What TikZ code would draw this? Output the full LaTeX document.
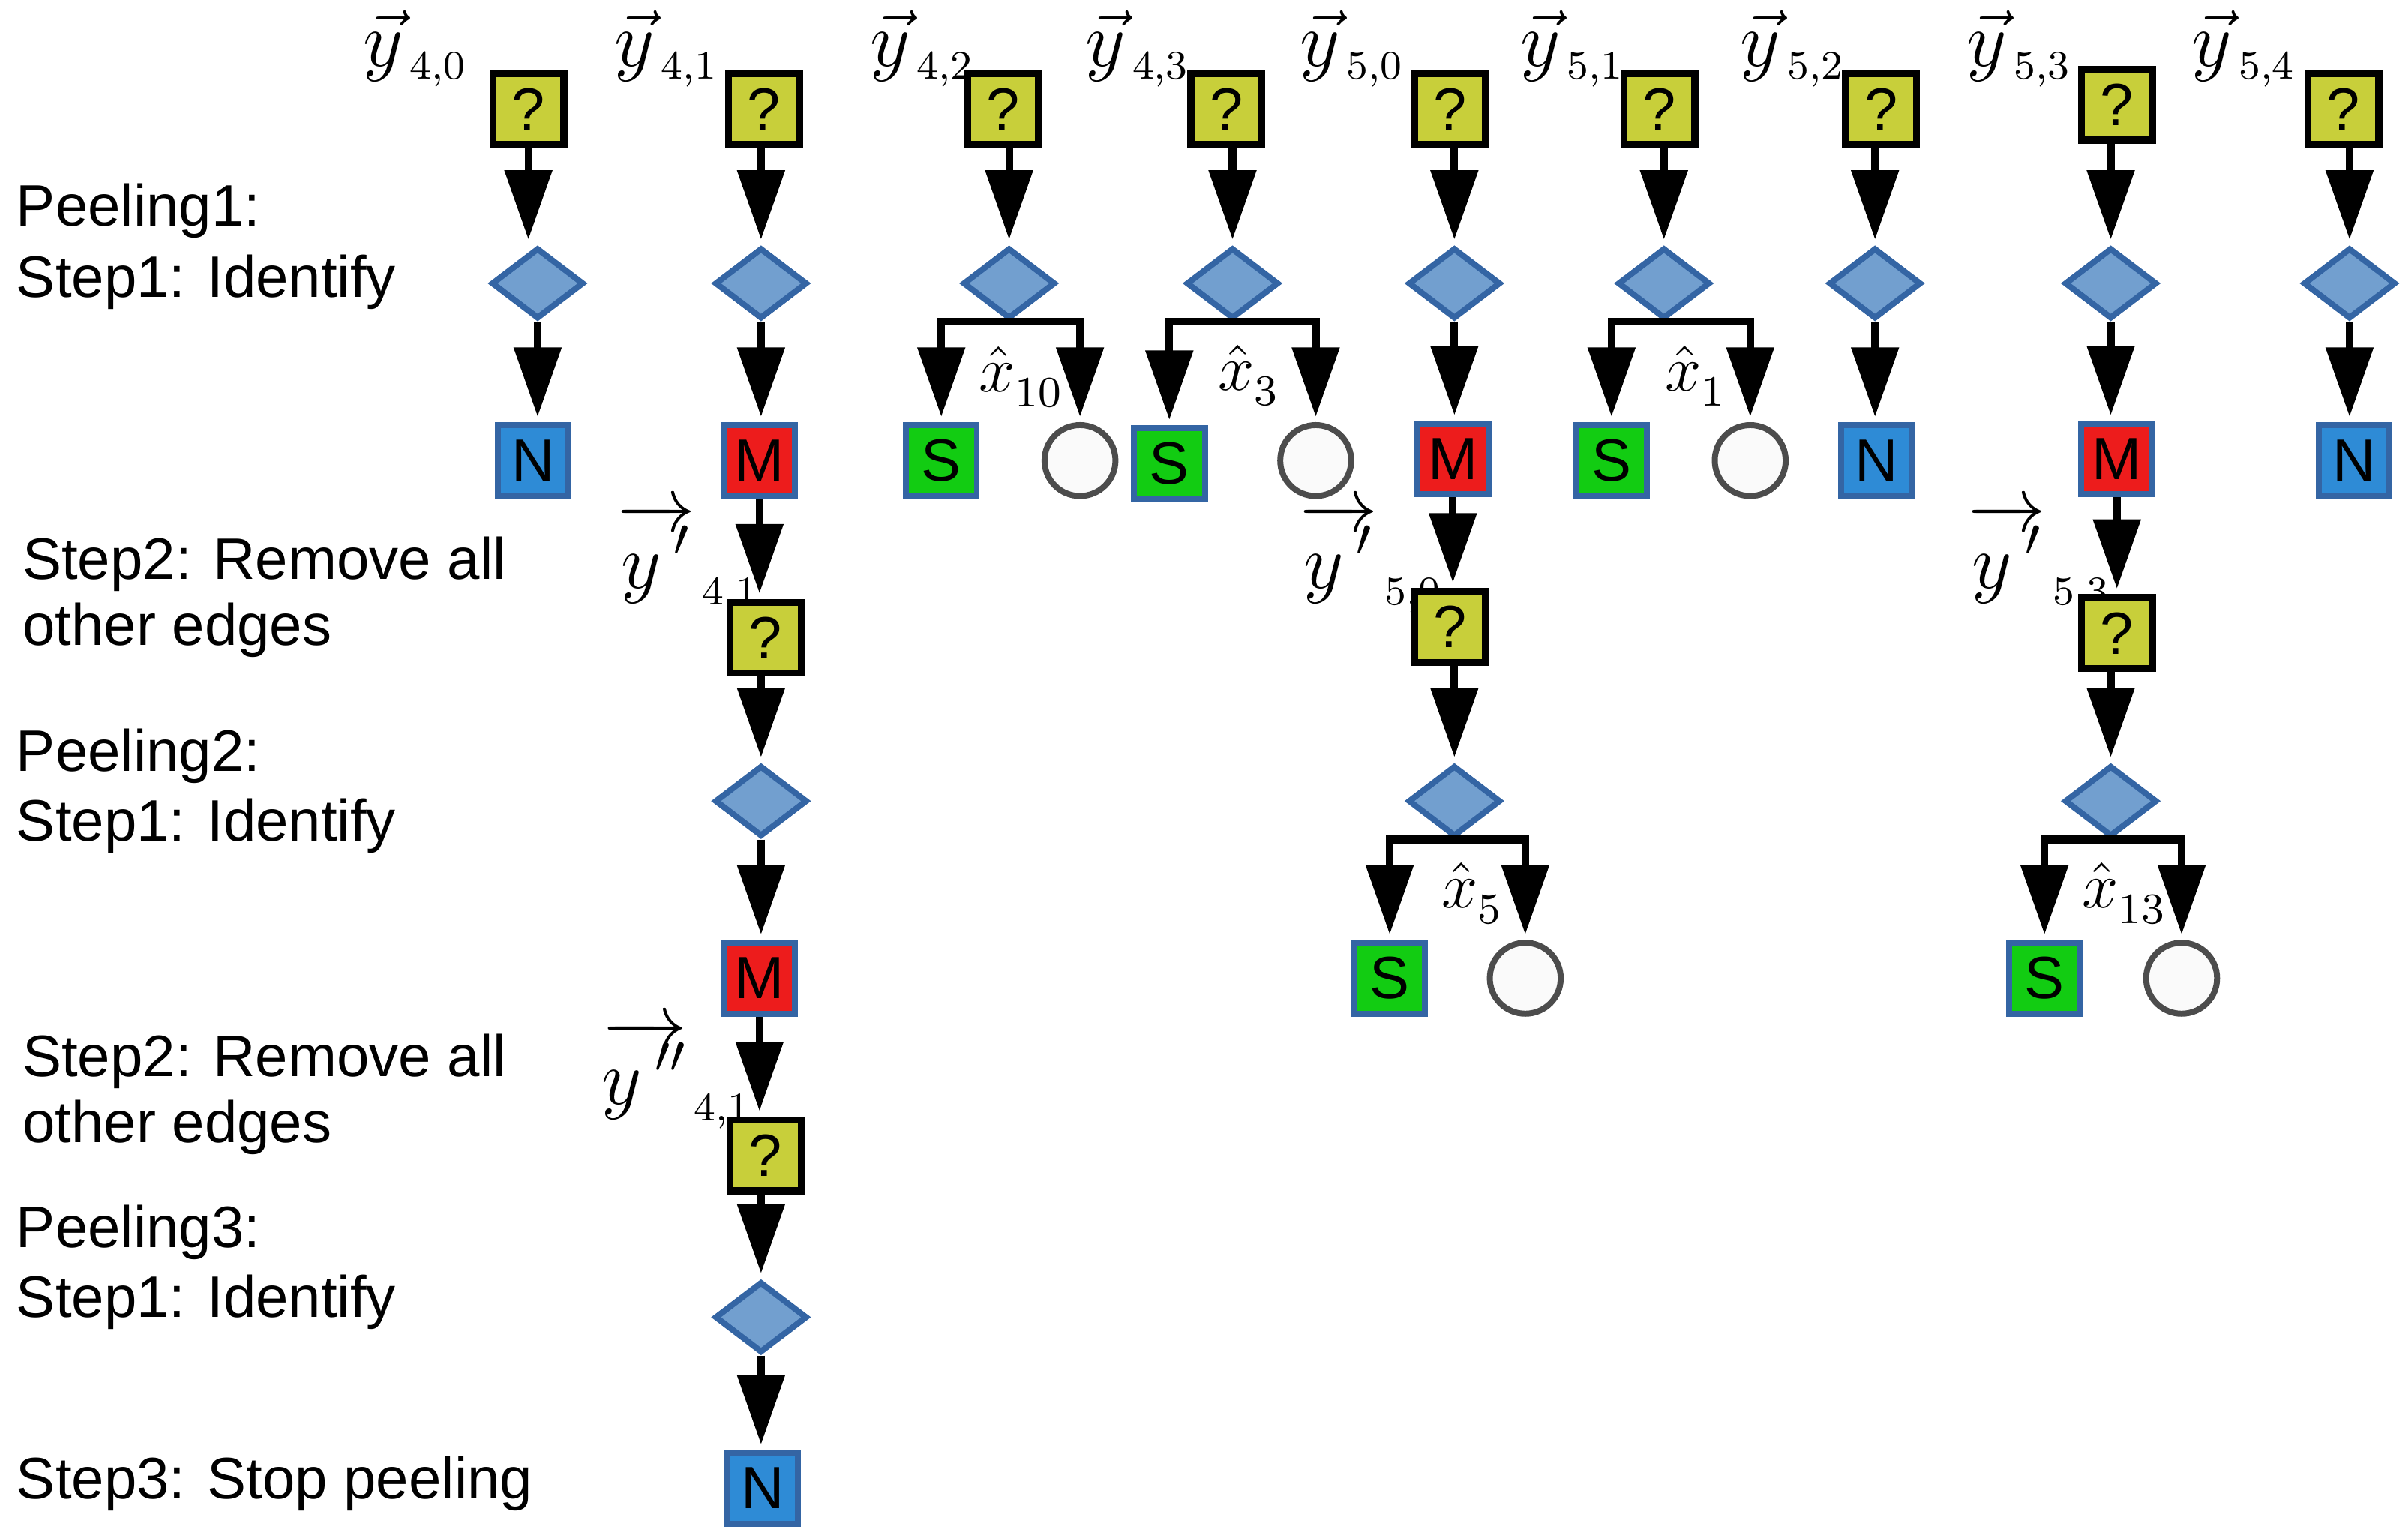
\documentclass[tikz,border=0pt]{standalone}
\usepackage{fontspec}
\setsansfont{Liberation Sans}
\usetikzlibrary{arrows.meta,shapes.geometric}
\definecolor{qy}{HTML}{C8CF3A}
\definecolor{dfill}{HTML}{729FCF}
\definecolor{dbord}{HTML}{3465A4}
\definecolor{nb}{HTML}{2E8BD6}
\definecolor{mr}{HTML}{ED1C1C}
\definecolor{sg}{HTML}{12CC12}
\tikzset{
 q/.style={draw=black,line width=1.3pt,fill=qy,minimum size=0.46cm,inner sep=0,font=\sffamily\fontsize{11}{11}\selectfont},
 st/.style={draw=dbord,line width=1.1pt,minimum size=0.46cm,inner sep=0,font=\sffamily\fontsize{11}{11}\selectfont},
 N/.style={st,fill=nb}, M/.style={st,fill=mr}, S/.style={st,fill=sg},
 c/.style={circle,draw=black!70,line width=1.1pt,fill=black!2,minimum size=0.46cm,inner sep=0},
 d/.style={diamond,draw=dbord,line width=1.1pt,fill=dfill,minimum width=0.6cm,minimum height=0.46cm,inner sep=0},
 a/.style={line width=1.4pt,-{Triangle[width=0.3cm,length=0.45cm]},shorten >=1pt},
 lt/.style={anchor=west,inner sep=0,font=\sffamily\fontsize{10.8}{13}\selectfont},
 yl/.style={anchor=base west,inner sep=0}
}
\newcommand{\yv}[1]{\fontsize{14}{14}\selectfont$\vec{y}$\raisebox{-0.4ex}{\fontsize{7.5}{9}\selectfont\,#1}}
\newcommand{\yp}[2]{\fontsize{14}{14}\selectfont$\overrightarrow{y\,#1}$\raisebox{-0.5ex}{\fontsize{7.5}{9}\selectfont\,#2}}
\newcommand{\xh}[1]{\fontsize{13}{13}\selectfont$\hat{x}$\raisebox{-0.5ex}{\fontsize{8}{9}\selectfont #1}}
\begin{document}
\begin{tikzpicture}[x=0.01cm,y=-0.01cm]
\useasboundingbox (0,0) rectangle (1563,998);
% left texts
\node[lt] (t1) at (10,137) {Peeling1:};
\node[lt] (t2) at (10,183) {Step1: Identify};
\node[lt] (t3) at (14,366) {Step2: Remove all};
\node[lt] (t4) at (14,409) {other edges};
\node[lt] (t5) at (10,491) {Peeling2:};
\node[lt] (t6) at (10,536) {Step1: Identify};
\node[lt] (t7) at (14,689) {Step2: Remove all};
\node[lt] (t8) at (14,732) {other edges};
\node[lt] (t9) at (10,800) {Peeling3:};
\node[lt] (t10) at (10,845) {Step1: Identify};
\node[lt] (t11) at (10,963) {Step3: Stop peeling};
% y labels
\node[yl] (l1) at (235,43) {\yv{4,0}};
\node[yl] (l2) at (398,43) {\yv{4,1}};
\node[yl] (l3) at (564,43) {\yv{4,2}};
\node[yl] (l4) at (704,43) {\yv{4,3}};
\node[yl] (l5) at (843,43) {\yv{5,0}};
\node[yl] (l6) at (986,43) {\yv{5,1}};
\node[yl] (l7) at (1129,43) {\yv{5,2}};
\node[yl] (l8) at (1276,43) {\yv{5,3}};
\node[yl] (l9) at (1422,43) {\yv{5,4}};
\node[yl] (p1) at (400,382) {\yp{'}{4,1}};
\node[yl] (p2) at (843,382) {\yp{'}{5,0}};
\node[yl] (p3) at (1277,382) {\yp{'}{5,3}};
\node[yl] (p4) at (390,717) {\yp{''}{4,1}};
% col 1
\node[q] (a1) at (343,71) {?}; \node[d] (a2) at (349,184) {}; \node[N] (a3) at (346,299) {N};
\draw[a] (a1) -- (a1|-a2.north); \draw[a] (a2) -- (a2|-a3.north);
% col 2
\node[q] (b1) at (496,71) {?}; \node[d] (b2) at (494,184) {}; \node[M] (b3) at (493,299) {M};
\node[q] (b4) at (497,414) {?}; \node[d] (b5) at (494,520) {}; \node[M] (b6) at (493,635) {M};
\node[q] (b7) at (497,750) {?}; \node[d] (b8) at (494,855) {}; \node[N] (b9) at (495,966) {N};
\draw[a] (b2|-b1.south) -- (b2.north); \draw[a] (b2) -- (b2|-b3.north);
\draw[a] (b3) -- (b3|-b4.north); \draw[a] (b5|-b4.south) -- (b5.north);
\draw[a] (b5) -- (b5|-b6.north); \draw[a] (b6) -- (b6|-b7.north);
\draw[a] (b8|-b7.south) -- (b8.north); \draw[a] (b8) -- (b8|-b9.north);
% col 3
\node[q] (c1) at (651,71) {?}; \node[d] (c2) at (655,184) {};
\node[S] (c3) at (611,299) {S}; \node[c] (c4) at (701,299) {};
\draw[a] (c2|-c1.south) -- (c2.north);
\draw[a] (c2.south) -| (c3.north); \draw[a] (c2.south) -| (c4.north);
\node (cx) at (662,245) {\xh{10}};
% col 4
\node[q] (e1) at (796,71) {?}; \node[d] (e2) at (800,184) {};
\node[S] (e3) at (759,301) {S}; \node[c] (e4) at (854,299) {};
\draw[a] (e2|-e1.south) -- (e2.north);
\draw[a] (e2.south) -| (e3.north); \draw[a] (e2.south) -| (e4.north);
\node (ex) at (810,244) {\xh{3}};
% col 5
\node[q] (f1) at (941,71) {?}; \node[d] (f2) at (944,184) {}; \node[M] (f3) at (943,298) {M};
\node[q] (f4) at (941,407) {?}; \node[d] (f5) at (944,520) {};
\node[S] (f6) at (902,635) {S}; \node[c] (f7) at (990,635) {};
\draw[a] (f2|-f1.south) -- (f2.north); \draw[a] (f2) -- (f2|-f3.north);
\draw[a] (f3) -- (f3|-f4.north); \draw[a] (f5|-f4.south) -- (f5.north);
\draw[a] (f5.south) -| (f6.north); \draw[a] (f5.south) -| (f7.north);
\node (fx) at (955,580) {\xh{5}};
% col 6
\node[q] (g1) at (1077,71) {?}; \node[d] (g2) at (1080,184) {};
\node[S] (g3) at (1046,299) {S}; \node[c] (g4) at (1136,299) {};
\draw[a] (g2|-g1.south) -- (g2.north);
\draw[a] (g2.south) -| (g3.north); \draw[a] (g2.south) -| (g4.north);
\node (gx) at (1100,244) {\xh{1}};
% col 7
\node[q] (h1) at (1221,71) {?}; \node[d] (h2) at (1217,184) {}; \node[N] (h3) at (1218,299) {N};
\draw[a] (h2|-h1.south) -- (h2.north); \draw[a] (h2) -- (h2|-h3.north);
% col 8
\node[q] (i1) at (1374,68) {?}; \node[d] (i2) at (1370,184) {}; \node[M] (i3) at (1374,298) {M};
\node[q] (i4) at (1374,411) {?}; \node[d] (i5) at (1370,520) {};
\node[S] (i6) at (1327,635) {S}; \node[c] (i7) at (1416,635) {};
\draw[a] (i2|-i1.south) -- (i2.north); \draw[a] (i2) -- (i2|-i3.north);
\draw[a] (i3) -- (i3|-i4.north); \draw[a] (i5|-i4.south) -- (i5.north);
\draw[a] (i5.south) -| (i6.north); \draw[a] (i5.south) -| (i7.north);
\node (ix) at (1378,580) {\xh{13}};
% col 9
\node[q] (j1) at (1521,71) {?}; \node[d] (j2) at (1525,184) {}; \node[N] (j3) at (1528,299) {N};
\draw[a] (j2|-j1.south) -- (j2.north); \draw[a] (j2) -- (j2|-j3.north);
\end{tikzpicture}
\end{document}
